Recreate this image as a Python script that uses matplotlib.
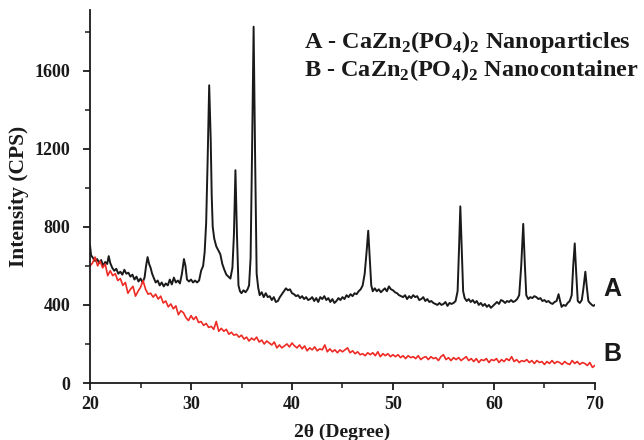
import numpy as np
import matplotlib.pyplot as plt
from matplotlib.ticker import MultipleLocator

# A - nanoparticles (black), explicit 2theta / intensity pairs
a_x = [20.0, 20.1, 20.3, 20.5, 20.7, 20.9, 21.1, 21.3, 21.5, 21.7, 21.85, 22.0, 22.2, 22.4, 22.6, 22.8,
       23.0, 23.2, 23.4, 23.6, 23.8, 24.0, 24.2, 24.4, 24.6, 24.8, 25.0, 25.2, 25.4, 25.55, 25.7, 25.85,
       26.0, 26.15, 26.3, 26.5, 26.7, 26.9, 27.1, 27.3, 27.5, 27.7, 27.9, 28.1, 28.3, 28.5, 28.7, 28.9,
       29.1, 29.3, 29.45, 29.6, 29.8, 30.0, 30.2, 30.4, 30.6, 30.8, 31.0, 31.2, 31.35, 31.5, 31.65, 31.8,
       31.95, 32.05, 32.15, 32.3, 32.5, 32.7, 32.9, 33.1, 33.3, 33.5, 33.7, 33.9, 34.1, 34.25, 34.4, 34.55,
       34.7, 34.85, 35.0, 35.2, 35.4, 35.6, 35.75, 35.9, 36.05, 36.2, 36.35, 36.5, 36.65, 36.8, 37.0, 37.2,
       37.4, 37.6, 37.8, 38.0, 38.2, 38.4, 38.6, 38.8, 39.0, 39.2, 39.4, 39.6, 39.8, 40.0, 40.2, 40.4,
       40.6, 40.8, 41.0, 41.2, 41.4, 41.6, 41.8, 42.0, 42.2, 42.4, 42.6, 42.8, 43.0, 43.2, 43.4, 43.6,
       43.8, 44.0, 44.2, 44.4, 44.6, 44.8, 45.0, 45.2, 45.4, 45.6, 45.8, 46.0, 46.2, 46.4, 46.6, 46.8,
       47.0, 47.2, 47.4, 47.55, 47.7, 47.85, 48.0, 48.2, 48.4, 48.6, 48.8, 49.0, 49.2, 49.4, 49.6, 49.8,
       50.0, 50.2, 50.4, 50.6, 50.8, 51.0, 51.2, 51.4, 51.6, 51.8, 52.0, 52.2, 52.4, 52.6, 52.8, 53.0,
       53.2, 53.4, 53.6, 53.8, 54.0, 54.2, 54.4, 54.6, 54.8, 55.0, 55.2, 55.4, 55.6, 55.8, 56.0, 56.2,
       56.4, 56.55, 56.67, 56.8, 56.95, 57.1, 57.3, 57.5, 57.7, 57.9, 58.1, 58.3, 58.5, 58.7, 58.9, 59.1,
       59.3, 59.5, 59.7, 59.9, 60.1, 60.3, 60.5, 60.7, 60.9, 61.1, 61.3, 61.5, 61.7, 61.9, 62.1, 62.3,
       62.5, 62.7, 62.9, 63.05, 63.2, 63.4, 63.6, 63.8, 64.0, 64.2, 64.4, 64.6, 64.8, 65.0, 65.2, 65.4,
       65.6, 65.8, 66.0, 66.2, 66.4, 66.55, 66.7, 66.9, 67.1, 67.3, 67.5, 67.7, 67.85, 68.0, 68.15, 68.3,
       68.5, 68.7, 68.85, 69.05, 69.2, 69.35, 69.5, 69.7, 69.85, 70.0]
a_y = [705, 655, 640, 625, 635, 615, 630, 600, 620, 610, 650, 615, 590, 575, 585, 560,
       570, 555, 580, 560, 565, 545, 555, 530, 545, 520, 535, 515, 540, 600, 645, 610,
       590, 560, 540, 515, 525, 500, 515, 495, 510, 500, 530, 505, 540, 515, 525, 510,
       560, 635, 600, 530, 520, 530, 515, 525, 515, 525, 575, 600, 670, 820, 1150, 1525,
       1250, 960, 800, 740, 700, 680, 660, 610, 580, 555, 545, 535, 590, 760, 1090, 760,
       500, 470, 460, 475, 465, 480, 500, 640, 1200, 1825, 1150, 560, 490, 450, 465, 440,
       460, 440, 445, 425, 440, 415, 420, 440, 455, 470, 485, 475, 480, 460, 455, 445,
       450, 435, 445, 430, 440, 425, 430, 440, 420, 435, 415, 440, 430, 445, 425, 435,
       415, 430, 410, 420, 435, 425, 440, 430, 450, 440, 455, 445, 460, 455, 470, 480,
       500, 560, 680, 780, 640, 500, 470, 485, 470, 480, 465, 475, 485, 470, 495, 480,
       475, 465, 460, 450, 445, 440, 450, 430, 445, 435, 450, 440, 445, 425, 430, 440,
       420, 430, 415, 420, 410, 405, 400, 410, 400, 405, 415, 395, 410, 405, 410, 420,
       470, 700, 905, 700, 470, 435, 420, 430, 415, 425, 410, 420, 400, 410, 395, 405,
       390, 400, 385, 395, 405, 415, 405, 425, 420, 410, 420, 415, 425, 415, 420, 430,
       450, 600, 815, 620, 450, 430, 440, 435, 445, 440, 430, 435, 420, 425, 415, 420,
       410, 405, 415, 420, 455, 420, 390, 400, 395, 410, 420, 450, 600, 715, 560, 420,
       410, 425, 480, 570, 490, 420, 410, 400, 395, 400]

# B - nanocontainer (red), one value per 0.25 deg step from 20 to 70
b_y = [600, 615, 645, 600, 625, 590, 610, 550, 575, 550, 560, 525, 535, 500, 515, 460,
       480, 495, 445, 470, 490, 525, 480, 455, 460, 440, 455, 430, 445, 410, 420, 390,
       405, 380, 395, 350, 370, 360, 335, 320, 345, 325, 340, 310, 315, 295, 305, 285,
       290, 275, 315, 265, 280, 265, 275, 250, 260, 245, 250, 235, 245, 225, 235, 215,
       230, 220, 235, 210, 220, 200, 215, 205, 195, 210, 180, 195, 180, 190, 200, 185,
       205, 190, 180, 195, 175, 190, 165, 180, 170, 185, 165, 175, 170, 195, 160, 175,
       160, 170, 155, 170, 160, 170, 180, 155, 165, 150, 160, 145, 150, 140, 155, 145,
       155, 140, 160, 135, 150, 140, 150, 135, 145, 135, 145, 130, 140, 125, 140, 130,
       135, 125, 140, 120, 130, 135, 120, 135, 125, 130, 115, 135, 145, 120, 130, 115,
       130, 120, 130, 115, 125, 135, 115, 125, 110, 125, 105, 120, 115, 125, 105, 120,
       115, 125, 105, 120, 110, 125, 115, 135, 110, 120, 105, 115, 110, 120, 105, 115,
       100, 115, 105, 110, 95, 110, 100, 115, 100, 110, 105, 95, 110, 100, 95, 115,
       100, 110, 95, 105, 100, 90, 105, 80, 90]
b_x = np.linspace(20, 70, len(b_y))

serif = 'Liberation Serif'
ink = '#1a1a1a'

plt.rcParams['mathtext.fontset'] = 'custom'
plt.rcParams['mathtext.rm'] = serif
plt.rcParams['mathtext.bf'] = serif + ':bold'

fig = plt.figure(figsize=(6.44, 4.4), dpi=100)
ax = fig.add_axes([0.1398, 0.1295, 0.784, 0.8475])

ax.plot(a_x, a_y, color=ink, linewidth=1.4)
ax.plot(b_x, b_y, color='#ee2a24', linewidth=1.2)

ax.set_xlim(20, 70)
ax.set_ylim(0, 1910)
ax.xaxis.set_major_locator(MultipleLocator(10))
ax.xaxis.set_minor_locator(MultipleLocator(5))
ax.yaxis.set_major_locator(MultipleLocator(400))
ax.yaxis.set_minor_locator(MultipleLocator(200))

for side in ['top', 'right']:
    ax.spines[side].set_visible(False)
for side in ['left', 'bottom']:
    ax.spines[side].set_linewidth(1.3)
    ax.spines[side].set_color(ink)

ax.tick_params(which='major', direction='out', length=5, width=1.3, color=ink)
ax.tick_params(which='minor', direction='out', length=3.5, width=1.1, color=ink)
ax.tick_params(axis='y', which='major', pad=9)
ax.tick_params(axis='x', which='major', pad=4)
for lab in ax.get_xticklabels() + ax.get_yticklabels():
    lab.set_fontfamily(serif)
    lab.set_fontweight('bold')
    lab.set_fontsize(13)
    lab.set_color(ink)

ax.set_ylabel('Intensity (CPS)', fontfamily=serif, fontweight='bold', fontsize=15.5,
              color=ink, labelpad=4)
ax.set_xlabel('2θ (Degree)', fontfamily=serif, fontweight='bold',
              fontsize=14, color=ink, labelpad=8)

legend_lines = [r'A - CaZn$_\mathbf{2}$(PO$_\mathbf{4}$)$_\mathbf{2}$ Nanoparticles',
                r'B - CaZn$_\mathbf{2}$(PO$_\mathbf{4}$)$_\mathbf{2}$ Nanocontainer']
ax.text(0.424, 0.914, legend_lines[0], transform=ax.transAxes, fontfamily=serif,
        fontweight='bold', fontsize=17.5, color=ink, va='center')
ax.text(0.424, 0.839, legend_lines[1], transform=ax.transAxes, fontfamily=serif,
        fontweight='bold', fontsize=17.5, color=ink, va='center')

ax.text(70.8, 481, 'A', fontfamily='Liberation Sans', fontweight='bold', fontsize=18,
        color=ink, va='center', ha='left', clip_on=False)
ax.text(70.8, 151, 'B', fontfamily='Liberation Sans', fontweight='bold', fontsize=18,
        color=ink, va='center', ha='left', clip_on=False)

fig.savefig('out.png', dpi=100)
